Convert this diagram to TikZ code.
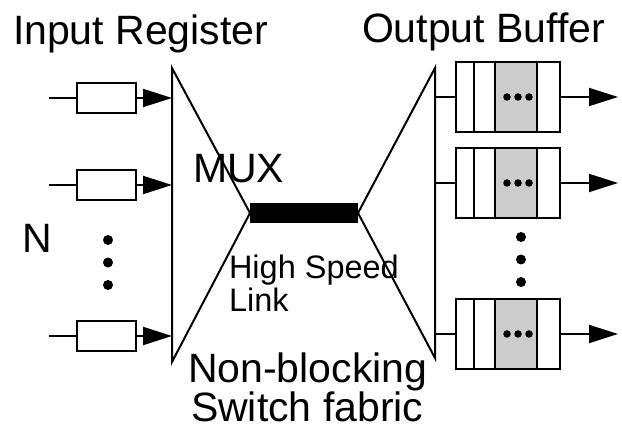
\documentclass[tikz,border=0pt]{standalone}
\usepackage{fontspec}
\setmainfont{Liberation Sans}
\usetikzlibrary{arrows.meta,positioning}

\begin{document}
\begin{tikzpicture}[
  x=1pt, y=-1pt,
  font=\fontsize{41}{41}\selectfont,
  line width=2pt,
  reg/.style={draw, minimum width=59pt, minimum height=30pt, inner sep=0pt},
  buf/.style={draw, minimum width=104pt, minimum height=70pt, inner sep=0pt},
  flow/.style={-{Triangle[length=29pt,width=18pt]}},
  dot/.style={circle, fill, draw=none, inner sep=0pt, minimum size=10pt},
  sdot/.style={circle, fill, draw=none, inner sep=0pt, minimum size=7.5pt},
  txt/.style={inner sep=0pt, anchor=base west},
  small/.style={txt, font=\fontsize{32.5}{32.5}\selectfont}
]
\useasboundingbox (0,0) rectangle (622,443);

% switch fabric
\coordinate (mtop) at (172,68);
\coordinate (mbot) at (172,362);
\coordinate (mux) at (250,213);
\coordinate (dtop) at (435,68);
\coordinate (dbot) at (435,358);
\coordinate (demux) at (358,213);
\draw[line width=20pt] (mux) -- (demux);
\draw (mux) -- (mtop) -- (mbot) -- cycle;
\draw (demux) -- (dtop) -- (dbot) -- cycle;

% input registers
\foreach \n/\y in {1/98,2/185,3/336} {
  \node[reg] (reg\n) at (106.5,\y) {};
  \coordinate (in\n) at (49,\y);
  \coordinate (mi\n) at (172,\y);
  \draw (in\n) -- (reg\n.west);
  \draw[flow] (reg\n.east) -- (mi\n);
}
\node[dot] (ldot1) at (108,240) {};
\node[dot, below=10.5pt of ldot1] (ldot2) {};
\node[dot, below=10.5pt of ldot2] (ldot3) {};

% output buffers
\foreach \n/\y in {1/97,2/183,3/334} {
  \node[buf] (buf\n) at (508,\y) {};
  \fill[gray!40] ([xshift=40pt]buf\n.north west) rectangle ([xshift=82pt]buf\n.south west);
  \foreach \d in {19,40,82}
    \draw ([xshift=\d pt]buf\n.north west) -- ([xshift=\d pt]buf\n.south west);
  \node[buf] at (buf\n) {};
  \node[sdot] (bd\n) at ([xshift=10pt]buf\n) {};
  \node[sdot, left=1.5pt of bd\n] {};
  \node[sdot, right=1.5pt of bd\n] {};
  \coordinate (do\n) at (435,\y);
  \coordinate (out\n) at (618,\y);
  \draw (do\n) -- (buf\n.west);
  \draw[flow] (buf\n.east) -- (out\n);
}
\node[dot] (rdot1) at (521,237) {};
\node[dot, below=10.5pt of rdot1] (rdot2) {};
\node[dot, below=10.5pt of rdot2] (rdot3) {};

% labels
\node[txt] (inlbl) at (12,45) {Input Register};
\node[txt] (outlbl) at (361,43) {Output Buffer};
\node[txt] (nlbl) at (22,253) {N};
\node[txt] (muxlbl) at (192,183) {MUX};
\node[small] (hslbl) at (228,279) {High Speed};
\node[small] (linklbl) at (228,312) {Link};
\node[txt] (fab1) at (187,383) {Non-blocking};
\node[txt] (fab2) at (190,422) {Switch fabric};
\end{tikzpicture}
\end{document}
